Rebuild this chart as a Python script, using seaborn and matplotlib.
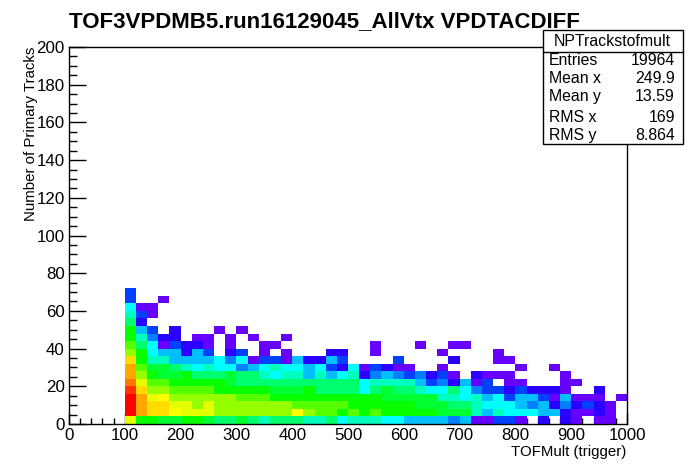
import matplotlib
matplotlib.use("Agg")
import matplotlib.pyplot as plt
from matplotlib.colors import LinearSegmentedColormap, hsv_to_rgb
from matplotlib.patches import Rectangle
import numpy as np
import pandas as pd
import seaborn as sns

# colour level of every filled cell, one list per TOFMult bin starting at 100,
# bottom row first, None = empty cell
_ = None
columns = [
    [12, 18, 18, 18, 17, 16, 15, 15, 14, 11, 10, 9, 9, 7, 6, 5, 2, 2],
    [9, 15, 15, 15, 14, 12, 11, 10, 9, 9, 7, 6, 4, 1, 2, 0],
    [9, 14, 14, 12, 11, 10, 9, 8, 6, 5, 5, 3, 2, _, 0, 0],
    [8, 14, 14, 13, 11, 10, 8, 8, 6, 4, 0, 1, _, _, _, _, 0],
    [8, 13, 12, 11, 10, 9, 8, 7, 4, 4, 2, 1, 1],
    [9, 12, 12, 11, 10, 9, 9, 6, 4, 1, 1],
    [9, 12, 11, 11, 10, 9, 7, 5, 4, 4, 1, 0],
    [8, 12, 12, 11, 10, 9, 7, 6, 4, 2, 0, 0],
    [7, 11, 11, 11, 9, 9, 7, 5, 5, _, _, _, 0],
    [7, 11, 11, 11, 9, 8, 8, 5, 3, 1, 0, 0],
    [8, 11, 11, 10, 9, 7, 7, 3, 5, 2, _, _, 0],
    [7, 11, 11, 10, 9, 7, 7, 4, 0, _, _, 0],
    [6, 11, 11, 10, 9, 7, 6, 5, 2, 0, 0],
    [7, 11, 11, 9, 8, 7, 5, 6, 2, _, 0],
    [7, 11, 11, 9, 8, 7, 6, 5, 0, 0, _, 0],
    [7, 13, 10, 9, 8, 7, 6, 5, 4],
    [6, 11, 10, 9, 9, 7, 4, 4, 1],
    [6, 10, 10, 9, 7, 7, 6, 5, 1],
    [7, 10, 10, 9, 7, 7, 4, 2, 4, 1],
    [5, 9, 10, 9, 7, 7, 5, 1, 2, 1],
    [6, 10, 9, 9, 7, 7, 6, 5],
    [6, 9, 9, 9, 5, 5, 1, 0],
    [6, 10, 9, 9, 7, 6, 3, 2, _, 0, 0],
    [5, 9, 9, 8, 8, 6, 4, 1],
    [5, 9, 9, 8, 7, 6, 3, 0, 2],
    [4, 9, 9, 8, 7, 6, 2, 0],
    [4, 9, 8, 8, 6, 4, 3, _, _, _, 0],
    [4, 9, 8, 8, 5, 2, 1],
    [4, 8, 8, 6, 5, 3, 2, 0, _, 0],
    [3, 8, 7, 6, 7, 1, 0, _, 1, _, 0],
    [4, 8, 7, 5, 5, 4, _, _, _, _, 0],
    [0, 6, 6, 6, 3, 0, 1],
    [0, 4, 5, 4, 2, 2, 0],
    [2, 6, 5, 5, 2, _, 0, _, 0, 0],
    [2, 5, 5, 2, 1, 0, 0, _, 0],
    [0, 5, 4, 4, 2, 0, _, 0],
    [_, 5, 3, 4, 1],
    [1, 4, 4, 2, 1],
    [_, 4, 1, 0, 1, _, _, 0],
    [1, 1, 3, 4, 0, 0, 0],
    [0, 0, 1, 0, _, 0],
    [_, 0, 2, 0],
    [0, 1, 1, 0, 1],
    [0, 0, 0],
    [_, _, _, 0],
]
level_hues = [264, 250, 225, 210, 195, 180, 165, 146, 132, 118, 100, 85, 66, 60, 52, 39, 28, 12, 0]

stat_names = ["Entries", "Mean x", "Mean y", "RMS x", "RMS y"]
stat_values = ["19964", "249.9", "13.59", "169", "8.864"]

xs, ys, ws = [], [], []
for i, col in enumerate(columns):
    for j, lev in enumerate(col):
        if lev is not None:
            xs.append(100 + 20 * i + 10)
            ys.append(4 * j + 2)
            ws.append(lev + 1)  # +1 so that level 0 is not taken for empty
df = pd.DataFrame({"tofmult": xs, "ntracks": ys, "level": ws})

sns.set_theme(style="white")
plt.rcParams["font.family"] = ["Liberation Sans", "DejaVu Sans"]

colors = hsv_to_rgb([[h / 360, 1, 1] for h in level_hues])
root_cmap = LinearSegmentedColormap.from_list("root", colors, N=len(colors))

W, H = 696, 472
fig = plt.figure(figsize=(W / 100, H / 100), dpi=100)
ax = fig.add_axes([69 / W, 1 - 424 / H, 558 / W, 377 / H])

sns.histplot(df, x="tofmult", y="ntracks", weights="level", ax=ax,
             bins=[np.arange(0, 1001, 20), np.arange(0, 201, 4)],
             cmap=root_cmap, thresh=0, vmin=0.5, vmax=19.5)

ax.set_xlim(0, 1000)
ax.set_ylim(0, 200)
ax.set_xticks(np.arange(0, 1001, 100))
ax.set_xticks(np.arange(0, 1001, 20), minor=True)
ax.set_yticks(np.arange(0, 201, 20))
ax.set_yticks(np.arange(0, 201, 5), minor=True)
ax.tick_params(axis="x", which="major", direction="in", length=8, width=1, color="black",
               labelsize=12.2, labelcolor="black", pad=3, bottom=True)
ax.tick_params(axis="x", which="minor", direction="in", length=4, width=1, color="black", bottom=True)
ax.tick_params(axis="y", which="major", direction="in", length=12.5, width=1, color="black",
               labelsize=12.2, labelcolor="black", pad=3, left=True)
ax.tick_params(axis="y", which="minor", direction="in", length=6, width=1, color="black", left=True)
for s in ax.spines.values():
    s.set_visible(True)
    s.set_color("black")
    s.set_linewidth(1)

ax.set_xlabel("")
ax.set_ylabel("")
fig.text(626 / W, 1 - 452 / H, "TOFMult (trigger)", ha="right", va="center", fontsize=10.8, color="black")
fig.text(31 / W, 1 - 47 / H, "Number of Primary Tracks", ha="center", va="top", rotation=90,
         fontsize=10.8, color="black")
fig.text(69 / W, 1 - 22 / H, "TOF3VPDMB5.run16129045_AllVtx VPDTACDIFF", ha="left", va="center",
         fontsize=16, fontweight="bold", color="black")

# stats box
fig.add_artist(Rectangle((542.5 / W, 1 - 143.5 / H), 140 / W, 113 / H, transform=fig.transFigure,
                         facecolor="white", edgecolor="black", linewidth=1, zorder=5))
fig.add_artist(plt.Line2D([542.5 / W, 682.5 / W], [1 - 51.5 / H] * 2, color="black", linewidth=1, zorder=6))
fig.text(612 / W, 1 - 41 / H, "NPTrackstofmult", ha="center", va="center", fontsize=11.4, color="black", zorder=6)
row_y = [60.5, 78.5, 96.5, 118, 135.5]
for name, val, y in zip(stat_names, stat_values, row_y):
    fig.text(549 / W, 1 - y / H, name, ha="left", va="center", fontsize=11.4, color="black", zorder=6)
    fig.text(675 / W, 1 - y / H, val, ha="right", va="center", fontsize=11.4, color="black", zorder=6)

fig.savefig("out.png", dpi=100)
